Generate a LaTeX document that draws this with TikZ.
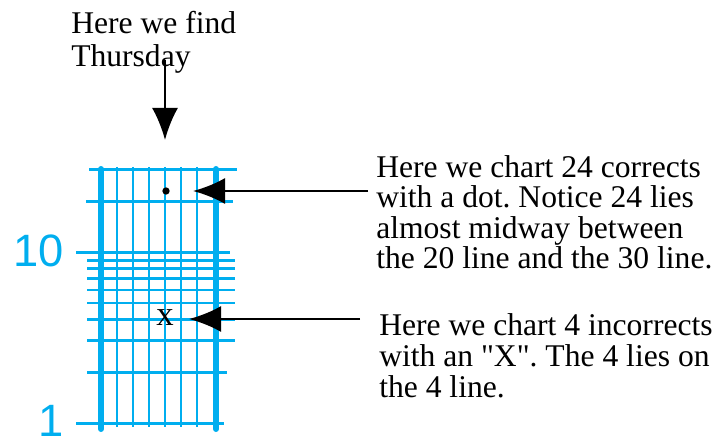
\documentclass[tikz,border=0pt]{standalone}
\usepackage{fontspec}
\setmainfont{Liberation Serif}[Ligatures=TeXOff]
\newfontfamily\scalefont{Liberation Sans}
\usepackage{tikz}
\usetikzlibrary{arrows.meta}
\definecolor{chartblue}{RGB}{0,174,239}
\frenchspacing

\begin{document}
\begin{tikzpicture}[x=0.75pt,y=0.75pt,yscale=-1,xscale=1,
  thinrule/.style={color=chartblue,line width=1.9pt},
  thickrule/.style={color=chartblue,line width=4.5pt,line cap=round},
  pointer/.style={line width=1.8pt,-{Latex[length=24pt,width=19.5pt]}},
  note/.style={anchor=north west,inner sep=0pt,align=left,font=\fontsize{23.7}{23.25}\selectfont},
  scalelabel/.style={anchor=east,inner sep=0pt,color=chartblue,font=\scalefont\fontsize{34}{34}\selectfont}]
%set diagram size
\useasboundingbox (0,0) rectangle (721,438);

%Straight Lines: horizontal rules 1 ... 9
\draw [thinrule]   (76,423.5) -- (224,423.5) ;
\draw [thinrule]   (87,372.5) -- (227,372.5) ;
\draw [thinrule]   (87,340.7) -- (235,340.7) ;
\draw [thinrule]   (87,319.3) -- (235,319.3) ;
\draw [thinrule]   (87,303) -- (235,303) ;
\draw [thinrule]   (87,289.8) -- (235,289.8) ;
\draw [thinrule]   (87,278.5) -- (235,278.5) ;
\draw [thinrule]   (87,268.5) -- (235,268.5) ;
\draw [thinrule]   (87,260.3) -- (235,260.3) ;
%Straight Lines: horizontal rules 10, 20, 30
\draw [thinrule]   (76,252.5) -- (230,252.5) ;
\draw [thinrule]   (86,201.5) -- (233,201.5) ;
\draw [thinrule]   (89,169.3) -- (237,169.3) ;
%Straight Lines: day columns
\draw [thinrule]   (117,167) -- (117,427) ;
\draw [thinrule]   (133,167) -- (133,427) ;
\draw [thinrule]   (149,167) -- (149,427) ;
\draw [thinrule]   (165,167) -- (165,427) ;
\draw [thinrule]   (181,167) -- (181,427) ;
\draw [thinrule]   (197,167) -- (197,427) ;
%Straight Lines: heavy edges
\draw [thickrule]   (101,169) -- (101,429) ;
\draw [thickrule]   (216,169) -- (216,429) ;

% Text Node
\node [scalelabel] (ten) at (64,251) {10};
% Text Node
\node [scalelabel] (one) at (64,421) {1};

%Shape: Circle
\node [circle,fill=black,inner sep=0pt,minimum size=5.5pt] (dot24) at (166,191) {};
% Text Node
\node [inner sep=0pt,font=\fontsize{26}{26}\selectfont] (x4) at (165,318) {x};

% Text Node
\node [note,font=\fontsize{23.7}{24.75}\selectfont] (thursday) at (71,10.7) {Here we find\\Thursday};
% Text Node
\node [note,font=\fontsize{23.7}{22.7}\selectfont] (correct) at (376,155.4) {Here we chart 24 corrects\\with a dot. Notice 24 lies\\almost midway between\\the 20 line and the 30 line.};
% Text Node
\node [note] (incorrect) at (379,313.4) {Here we chart 4 incorrects\\with an "X". The 4 lies on\\the 4 line.};

%Arrows
\coordinate (thursdayTail) at (165,60);
\coordinate (thursdayTip) at (165,140);
\coordinate (dotTail) at (368,191);
\coordinate (dotTip) at (193,191);
\coordinate (xTail) at (360,319);
\coordinate (xTip) at (189,319);
\draw [pointer] (thursdayTail) -- (thursdayTip) ;
\draw [pointer] (dotTail) -- (dotTip) ;
\draw [pointer] (xTail) -- (xTip) ;
\end{tikzpicture}
\end{document}
